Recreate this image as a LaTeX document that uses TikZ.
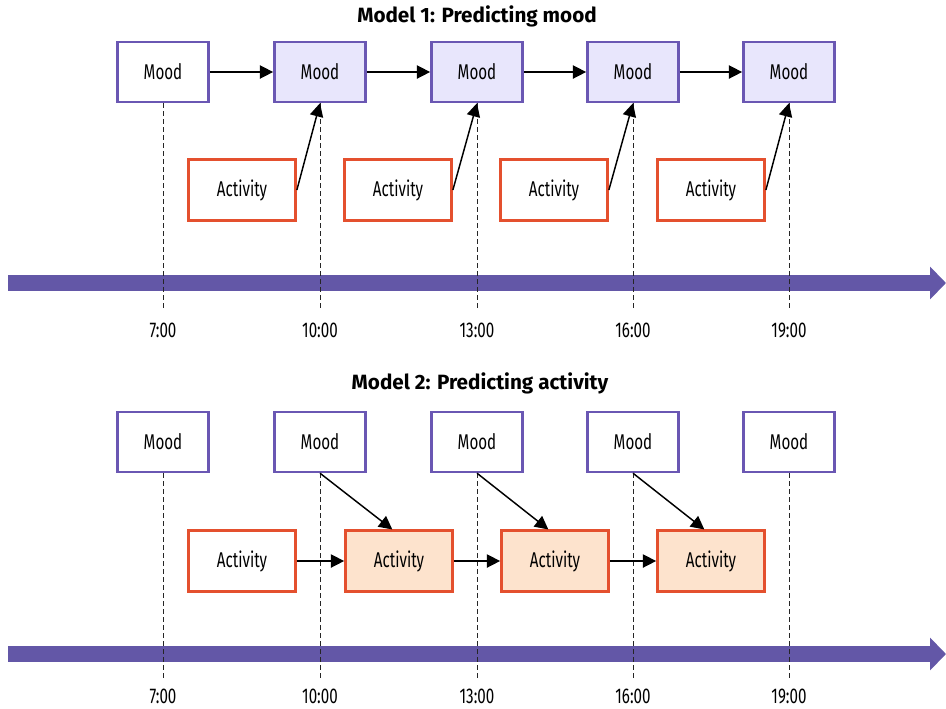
\documentclass[tikz,border=0pt]{standalone}
\usepackage{fontspec}
\setmainfont{Fira Sans}
\newfontfamily\narrowfont{Fira Sans}[FakeStretch=0.71]
\usetikzlibrary{positioning, arrows.meta, calc}
\definecolor{moodline}{HTML}{6A57B3}
\definecolor{moodfill}{HTML}{E8E6FC}
\definecolor{actline}{HTML}{E4502E}
\definecolor{actfill}{HTML}{FDE3CD}
\definecolor{axisfill}{HTML}{6357A7}

\begin{document}
\begin{tikzpicture}[x=0.75pt, y=-0.75pt,
    moodbox/.style={draw=moodline, line width=1.8pt, minimum width=68.5pt, minimum height=45pt, font=\narrowfont\fontsize{16}{19}\selectfont},
    actbox/.style={draw=actline, line width=1.8pt, minimum width=80.5pt, minimum height=45.5pt, font=\narrowfont\fontsize{16}{19}\selectfont},
    flow/.style={-{Triangle[length=10pt, width=10pt]}, line width=1.1pt},
    guide/.style={dash pattern=on 3.5pt off 2.5pt, line width=0.75pt, black!85},
    timeaxis/.style={-{Triangle[length=12pt, width=24pt]}, line width=12pt, axisfill},
    hour/.style={inner sep=1pt, font=\narrowfont\fontsize{16}{19}\selectfont},
    heading/.style={font=\bfseries\fontsize{15.5}{18}\selectfont}]
    \useasboundingbox (0,0) rectangle (946,708);

    % Model 1
    \node[heading] (t1) at (477,16) {Model 1: Predicting mood};
    \draw[timeaxis] (8,283) -- (946,283);
    \foreach \x/\f [count=\i] in {163/white,320/moodfill,477/moodfill,633/moodfill,789/moodfill} {
        \node[moodbox, fill=\f] (am\i) at (\x,72) {Mood};
        \draw[guide] (am\i.south) -- ++(0,206);
        \node[hour] (ah\i) at (\x,330) {\ifcase\i\or 7:00\or 10:00\or 13:00\or 16:00\or 19:00\fi};
    }
    \foreach \x [count=\i] in {242,398,554,711} \node[actbox] (aa\i) at (\x,190) {Activity};
    \foreach \i [evaluate=\i as \j using int(\i+1)] in {1,...,4} {
        \draw[flow] (am\i) -- (am\j);
        \draw[flow] (aa\i.east) -- (am\j.south);
    }

    % Model 2
    \node[heading] (t2) at (480,383) {Model 2: Predicting activity};
    \draw[timeaxis] (8,654) -- (946,654);
    \foreach \x [count=\i] in {163,320,477,633,789} {
        \node[moodbox] (bm\i) at (\x,442) {Mood};
        \draw[guide] (bm\i.south) -- ++(0,206);
        \node[hour] (bh\i) at (\x,696) {\ifcase\i\or 7:00\or 10:00\or 13:00\or 16:00\or 19:00\fi};
    }
    \foreach \x/\f [count=\i] in {242/white,399/actfill,555/actfill,711/actfill} \node[actbox, fill=\f] (ba\i) at (\x,561) {Activity};
    \foreach \i [evaluate=\i as \j using int(\i+1)] in {1,...,3} {
        \draw[flow] (ba\i) -- (ba\j);
        \draw[flow] (bm\j.south) -- ([xshift=-5pt]ba\j.north);
    }
\end{tikzpicture}
\end{document}
